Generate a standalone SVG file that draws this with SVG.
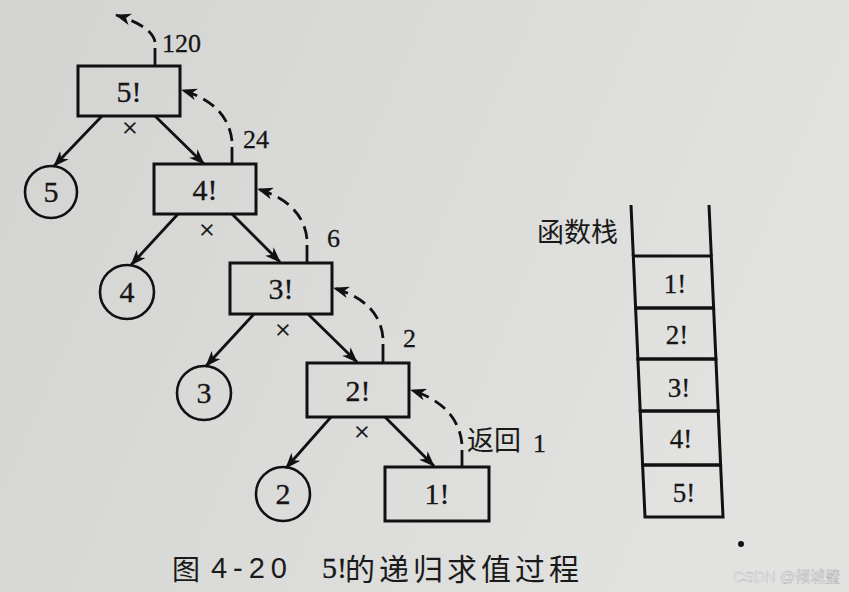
<svg xmlns="http://www.w3.org/2000/svg" width="849" height="592" viewBox="0 0 849 592">
  <defs>
    <linearGradient id="bg" x1="0" y1="0" x2="1" y2="0.3">
      <stop offset="0" stop-color="#d3d3d1"/>
      <stop offset="0.6" stop-color="#dcdcda"/>
      <stop offset="1" stop-color="#e2e2e0"/>
    </linearGradient>
    <marker id="ah" viewBox="0 0 16 12" refX="15" refY="6" markerWidth="16" markerHeight="12" orient="auto" markerUnits="userSpaceOnUse">
      <path d="M0,0 L16,6 L0,12 L4.5,6 Z" fill="#111"/>
    </marker>
    <style>
      .box { fill: none; stroke: #111; stroke-width: 3; }
      .circ { fill: none; stroke: #111; stroke-width: 2.6; }
      .lbl { font-family: "Liberation Serif", "Times New Roman", serif; fill: #151515; stroke: #151515; stroke-width: 0.3; }
      .big { font-size: 30px; text-anchor: middle; }
      .num { font-size: 26px; }
      .times { font-size: 28px; text-anchor: middle; }
      .stk { font-size: 27px; text-anchor: middle; }
      .cjk { font-family: "Noto Sans CJK SC", "Noto Sans", sans-serif; fill: #1a1a1a; }
      .edge { fill: none; stroke: #111; stroke-width: 2.8; marker-end: url(#ah); }
      .ret { fill: none; stroke: #111; stroke-width: 2.8; stroke-dasharray: 13 7; marker-end: url(#ah); }
      .stub { fill: none; stroke: #111; stroke-width: 2.8; }
      .cell { fill: none; stroke: #111; stroke-width: 3; stroke-linejoin: miter; }
    </style>
  </defs>

  <rect x="0" y="0" width="849" height="592" fill="url(#bg)"/>

  <!-- tree nodes -->
  <g id="node-f5">
    <rect class="box" x="78" y="66" width="102" height="50"/>
    <text class="lbl big" x="129" y="102">5!</text>
  </g>
  <g id="node-f4">
    <rect class="box" x="154" y="164" width="102" height="50"/>
    <text class="lbl big" x="205" y="200">4!</text>
  </g>
  <g id="node-f3">
    <rect class="box" x="230" y="263" width="102" height="51"/>
    <text class="lbl big" x="281" y="299">3!</text>
  </g>
  <g id="node-f2">
    <rect class="box" x="307" y="363" width="102" height="54"/>
    <text class="lbl big" x="358" y="401">2!</text>
  </g>
  <g id="node-f1">
    <rect class="box" x="385" y="467" width="104" height="54"/>
    <text class="lbl big" x="437" y="504">1!</text>
  </g>

  <g id="node-c5">
    <circle class="circ" cx="51" cy="192" r="26"/>
    <text class="lbl big" x="51" y="202">5</text>
  </g>
  <g id="node-c4">
    <circle class="circ" cx="127" cy="292" r="27"/>
    <text class="lbl big" x="127" y="302">4</text>
  </g>
  <g id="node-c3">
    <circle class="circ" cx="204" cy="393" r="27"/>
    <text class="lbl big" x="204" y="403">3</text>
  </g>
  <g id="node-c2">
    <circle class="circ" cx="283" cy="494" r="27"/>
    <text class="lbl big" x="283" y="504">2</text>
  </g>

  <!-- connectors -->
  <g id="connectors">
    <line class="edge" x1="102" y1="116" x2="54" y2="166"/>
    <line class="edge" x1="155" y1="116" x2="204" y2="164"/>
    <line class="edge" x1="178" y1="214" x2="131" y2="265"/>
    <line class="edge" x1="232" y1="214" x2="280" y2="262"/>
    <line class="edge" x1="254" y1="314" x2="206" y2="366"/>
    <line class="edge" x1="308" y1="314" x2="357" y2="362"/>
    <line class="edge" x1="331" y1="417" x2="286" y2="468"/>
    <line class="edge" x1="385" y1="417" x2="434" y2="466"/>

    <line class="stub" x1="155" y1="66" x2="155" y2="48"/>
    <path class="ret" d="M155,42 Q152,26 116,15"/>
    <line class="stub" x1="232" y1="164" x2="232" y2="147"/>
    <path class="ret" d="M232,141 Q228,104 182,90"/>
    <line class="stub" x1="307" y1="263" x2="307" y2="245"/>
    <path class="ret" d="M307,239 Q303,203 258,189"/>
    <line class="stub" x1="383" y1="363" x2="383" y2="344"/>
    <path class="ret" d="M383,338 Q380,302 334,288"/>
    <line class="stub" x1="462" y1="467" x2="462" y2="450"/>
    <path class="ret" d="M462,444 Q458,405 411,390"/>

    <text class="lbl times" x="130" y="137">×</text>
    <text class="lbl times" x="207" y="239">×</text>
    <text class="lbl times" x="283" y="339">×</text>
    <text class="lbl times" x="362" y="441">×</text>

    <text class="lbl num" x="162" y="52">120</text>
    <text class="lbl num" x="243" y="148">24</text>
    <text class="lbl num" x="327" y="247">6</text>
    <text class="lbl num" x="403" y="347">2</text>
    <text class="cjk" x="467" y="450" font-size="27">返回</text>
    <text class="lbl num" x="533" y="452">1</text>
  </g>

  <!-- function stack -->
  <g id="stack">
    <text class="cjk" x="537" y="242" font-size="27">函数栈</text>
    <line class="stub" x1="631" y1="205" x2="633.3" y2="256" style="stroke-width:3"/>
    <line class="stub" x1="709" y1="205" x2="711.3" y2="256" style="stroke-width:3"/>
    <g id="stack-1">
      <polygon class="cell" points="633.3,256 711.3,256 713.6,308 635.6,308"/>
      <text class="lbl stk" x="675" y="293">1!</text>
    </g>
    <g id="stack-2">
      <polygon class="cell" points="635.6,308 713.6,308 715.9,359 637.9,359"/>
      <text class="lbl stk" x="677" y="344">2!</text>
    </g>
    <g id="stack-3">
      <polygon class="cell" points="637.9,359 715.9,359 718.2,411 640.2,411"/>
      <text class="lbl stk" x="679" y="397">3!</text>
    </g>
    <g id="stack-4">
      <polygon class="cell" points="640.2,411 718.2,411 720.6,465 642.6,465"/>
      <text class="lbl stk" x="681" y="448">4!</text>
    </g>
    <g id="stack-5">
      <polygon class="cell" points="642.6,465 720.6,465 723,517 645,517"/>
      <text class="lbl stk" x="684" y="502">5!</text>
    </g>
  </g>

  <!-- caption -->
  <g id="caption">
    <text class="cjk" x="172" y="580" font-size="28">图</text>
    <text x="211" y="578" font-family="Liberation Sans, Arial, sans-serif" font-size="29" fill="#1a1a1a" textLength="76" lengthAdjust="spacing">4-20</text>
    <text class="lbl" x="322" y="578" font-size="30">5!</text>
    <text class="cjk" x="345" y="580" font-size="30" textLength="234" lengthAdjust="spacing">的递归求值过程</text>
  </g>

  <circle cx="741" cy="544" r="3" fill="#111"/>
  <text x="733" y="582" font-family="Liberation Sans, Arial, 'Noto Sans CJK SC', sans-serif" font-size="15" fill="#f6f6f6" stroke="#a8a8a8" stroke-width="0.4">CSDN @倾城璧</text>
</svg>
